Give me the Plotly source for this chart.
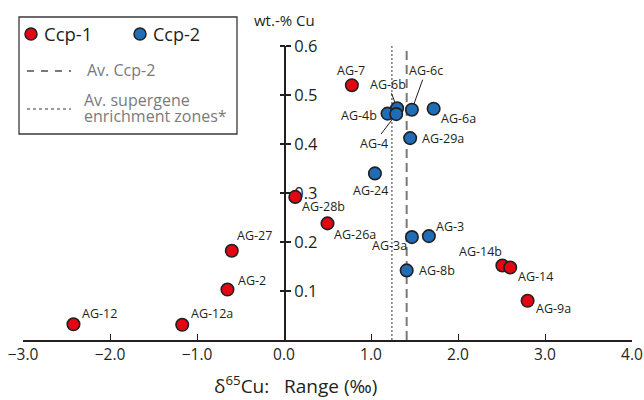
import plotly.graph_objects as go

# ---- data ----
ccp1_labels = ["AG-12", "AG-12a", "AG-2", "AG-27", "AG-28b", "AG-26a", "AG-7", "AG-14b", "AG-14", "AG-9a"]
ccp1_x = [-2.42, -1.17, -0.65, -0.60, 0.13, 0.50, 0.78, 2.51, 2.60, 2.80]
ccp1_y = [0.032, 0.031, 0.103, 0.182, 0.292, 0.238, 0.520, 0.152, 0.148, 0.080]

ccp2_labels = ["AG-4b", "AG-6b", "AG-4", "AG-6c", "AG-6a", "AG-29a", "AG-24", "AG-3a", "AG-3", "AG-8b"]
ccp2_x = [1.19, 1.30, 1.29, 1.47, 1.72, 1.45, 1.045, 1.47, 1.665, 1.41]
ccp2_y = [0.462, 0.473, 0.461, 0.470, 0.472, 0.412, 0.340, 0.210, 0.212, 0.142]

av_ccp2 = 1.41
av_supergene = 1.24

x_ticks = [-3.0, -2.0, -1.0, 0.0, 1.0, 2.0, 3.0, 4.0]
y_ticks = [0.1, 0.2, 0.3, 0.4, 0.5, 0.6]

# ---- styles ----
FONT = "Open Sans"
RED = "#e30613"
BLUE = "#1f6db5"
GRAY = "#7a7a7a"
TXT = "#231f20"
W, H = 644, 400

# label placement (pixel shifts, anchor)
label_pos = {
    "AG-12": (6.7, 11, "left"), "AG-12a": (6.3, 11.7, "left"), "AG-2": (9, 9.3, "left"),
    "AG-27": (2.7, 15.7, "left"), "AG-28b": (4.7, -10, "left"), "AG-26a": (4.7, -10.7, "left"),
    "AG-7": (-1.3, 15, "center"), "AG-6a": (5.3, -10, "left"), "AG-4b": (-8.3, -1.7, "right"),
    "AG-29a": (10, 0, "left"), "AG-24": (-4, -16.7, "center"), "AG-3a": (-2.7, -8.3, "right"),
    "AG-3": (5, 10, "left"), "AG-8b": (10, 0, "left"), "AG-14b": (1.7, 14.3, "right"),
    "AG-14": (5.3, -8.7, "left"), "AG-9a": (6.6, -7.6, "left"),
}
leader_pos = {"AG-6b": (-9, -24), "AG-6c": (14, -39), "AG-4": (-22, 29)}

fig = go.Figure()

# vertical average lines
fig.add_trace(go.Scatter(x=[av_supergene, av_supergene], y=[0, 0.605], mode="lines",
                         line=dict(color=GRAY, width=1.5, dash="2px,2px"),
                         hoverinfo="skip", showlegend=False, cliponaxis=False))
fig.add_trace(go.Scatter(x=[av_ccp2, av_ccp2], y=[0, 0.598], mode="lines",
                         line=dict(color=GRAY, width=2, dash="9px,5px"),
                         hoverinfo="skip", showlegend=False, cliponaxis=False))

marker_line = dict(color="#231f20", width=1.6)
fig.add_trace(go.Scatter(x=ccp1_x, y=ccp1_y, mode="markers", name="Ccp-1",
                         marker=dict(size=12.5, color=RED, line=marker_line),
                         showlegend=False, cliponaxis=False))
fig.add_trace(go.Scatter(x=ccp2_x, y=ccp2_y, mode="markers", name="Ccp-2",
                         marker=dict(size=12.5, color=BLUE, line=marker_line),
                         showlegend=False, cliponaxis=False))
# invisible trace for cross-tick axis
fig.add_trace(go.Scatter(x=[0], y=[0.3], yaxis="y2", mode="markers",
                         marker=dict(opacity=0), hoverinfo="skip", showlegend=False))

annotations = []
for lbls, xs, ys in ((ccp1_labels, ccp1_x, ccp1_y), (ccp2_labels, ccp2_x, ccp2_y)):
    for lb, xv, yv in zip(lbls, xs, ys):
        if lb in label_pos:
            dx, dy, anc = label_pos[lb]
            annotations.append(dict(x=xv, y=yv, xref="x", yref="y", text=lb, showarrow=False,
                                    xanchor=anc, yanchor="middle", xshift=dx, yshift=dy,
                                    font=dict(family=FONT, size=12.5, color=TXT)))
        elif lb in leader_pos:
            ax, ay = leader_pos[lb]
            annotations.append(dict(x=xv, y=yv, xref="x", yref="y", text=lb, showarrow=True,
                                    arrowhead=0, arrowwidth=1, arrowcolor=TXT, ax=ax, ay=ay,
                                    standoff=6, borderpad=0,
                                    font=dict(family=FONT, size=12.5, color=TXT)))

def px(x):
    return x / W

def py(y):
    return 1 - y / H

# axis titles
annotations.append(dict(x=px(284.5), y=py(20), xref="paper", yref="paper", text="wt.-% Cu",
                        showarrow=False, xanchor="center", yanchor="middle",
                        font=dict(family=FONT, size=15, color=TXT)))
annotations.append(dict(x=px(295), y=py(385), xref="paper", yref="paper",
                        text="δ<sup>65</sup>Cu:\u00a0\u00a0\u00a0Range (‰)",
                        showarrow=False, xanchor="center", yanchor="middle",
                        font=dict(family=FONT, size=19, color=TXT)))

# legend (custom)
shapes = [
    dict(type="rect", xref="paper", yref="paper", x0=px(19), x1=px(237), y0=py(17), y1=py(134),
         line=dict(color="#3a3a3a", width=1.3), fillcolor="white", layer="below"),
    dict(type="circle", xref="paper", yref="paper", x0=px(25), x1=px(37), y0=py(28), y1=py(40),
         line=dict(color=TXT, width=1.5), fillcolor=RED),
    dict(type="circle", xref="paper", yref="paper", x0=px(134), x1=px(146), y0=py(28), y1=py(40),
         line=dict(color=TXT, width=1.5), fillcolor=BLUE),
    dict(type="line", xref="paper", yref="paper", x0=px(27), x1=px(71), y0=py(71), y1=py(71),
         line=dict(color=GRAY, width=1.8, dash="7px,7px")),
    dict(type="line", xref="paper", yref="paper", x0=px(27), x1=px(71), y0=py(109), y1=py(109),
         line=dict(color=GRAY, width=1.3, dash="3px,3px")),
]
leg_items = [
    ("Ccp-1", 42, 34, 18.5, TXT), ("Ccp-2", 151, 34, 18, TXT), ("Av. Ccp-2", 85, 70, 16, GRAY),
    ("Av. supergene", 82, 100, 16, GRAY), ("enrichment zones*", 82, 116, 16, GRAY),
]
for t, x0, y0, s, c in leg_items:
    annotations.append(dict(x=px(x0), y=py(y0), xref="paper", yref="paper", text=t, showarrow=False,
                            xanchor="left", yanchor="middle", font=dict(family=FONT, size=s, color=c)))

y_dom = [(H - 340) / H, (H - 46) / H]
fig.update_layout(
    width=W, height=H, margin=dict(l=0, r=0, t=0, b=0, autoexpand=False),
    paper_bgcolor="white", plot_bgcolor="white",
    font=dict(family=FONT, color=TXT),
    xaxis=dict(domain=[23 / W, 632 / W], range=[-3, 4], anchor="y", automargin=False,
               showline=True, linecolor=TXT, linewidth=1.5, showgrid=False, zeroline=False,
               ticks="inside", ticklen=6, tickwidth=1.3, tickcolor=TXT,
               tickvals=x_ticks, tickformat=".1f", tickfont=dict(family=FONT, size=15.5, color=TXT)),
    yaxis=dict(domain=y_dom, range=[0, 0.6], anchor="free", position=285 / W, side="right",
               automargin=False,
               showline=True, linecolor=TXT, linewidth=2, showgrid=False, zeroline=False,
               ticks="outside", ticklen=5, tickwidth=1.5, tickcolor=TXT, layer="below traces",
               tickvals=y_ticks, tickformat=".1f", tickfont=dict(family=FONT, size=16.5, color=TXT)),
    yaxis2=dict(domain=y_dom, range=[0, 0.6], overlaying="y", anchor="free", position=285 / W,
                side="left", showline=False, showgrid=False, zeroline=False, automargin=False,
                ticks="outside", ticklen=5, tickwidth=1.5, tickcolor=TXT,
                tickvals=y_ticks, showticklabels=False),
    annotations=annotations, shapes=shapes, showlegend=False,
)

fig.write_html("out.html", config={"displayModeBar": False},
               post_script="document.body.style.margin='0';document.body.style.padding='0';")
